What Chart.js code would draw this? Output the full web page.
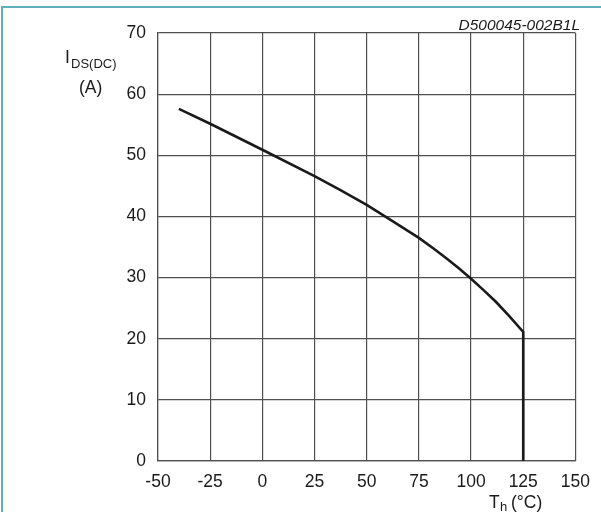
<!DOCTYPE html>
<html>
<head>
<meta charset="utf-8">
<script src="https://cdn.jsdelivr.net/npm/chart.js@4"></script>
<style>
  html, body { margin: 0; padding: 0; background: #fff; }
  #wrap { width: 601px; height: 512px; position: relative; }
</style>
</head>
<body>
<div id="wrap"><canvas id="c" width="601" height="512"></canvas></div>
<script>
// Derating curve: drain current vs. heatsink temperature
const heatsinkTemp = [-40, -25, 0, 25, 37, 50, 62, 75, 82, 88, 94, 100, 106, 112, 118, 125, 125];
const drainCurrent = [57.6, 55.15, 50.9, 46.6, 44.4, 41.9, 39.3, 36.5, 34.75, 33.2, 31.55, 29.8, 27.95, 26.0, 23.8, 21.1, 0];
const xTicks = [-50, -25, 0, 25, 50, 75, 100, 125, 150];
const yTicks = [0, 10, 20, 30, 40, 50, 60, 70];
const docCode = 'D500045-002B1L';

const FONT = 'Liberation Sans, Arial, sans-serif';

const points = heatsinkTemp.map((t, i) => ({ x: t, y: drainCurrent[i] }));

// Frame lines, document code and axis titles with subscripts
const decorations = {
  id: 'decorations',
  beforeDraw(chart) {
    const ctx = chart.ctx;
    ctx.save();
    ctx.fillStyle = '#fff';
    ctx.fillRect(0, 0, chart.width, chart.height);
    ctx.strokeStyle = '#62aebd';
    ctx.lineWidth = 2;
    ctx.beginPath();
    ctx.moveTo(2, chart.height);
    ctx.lineTo(2, 7);
    ctx.lineTo(chart.width, 7);
    ctx.stroke();
    ctx.restore();
  },
  afterDraw(chart) {
    const ctx = chart.ctx;
    ctx.save();
    ctx.fillStyle = '#1a1a1a';
    ctx.textBaseline = 'alphabetic';

    // document code, top right
    ctx.font = 'italic 15.5px ' + FONT;
    ctx.textAlign = 'right';
    ctx.fillText(docCode, 580, 30);

    // y-axis title: I_DS(DC) (A)
    ctx.textAlign = 'left';
    ctx.font = '17.5px ' + FONT;
    ctx.fillText('I', 65, 63);
    ctx.font = '13px ' + FONT;
    ctx.fillText('DS(DC)', 71, 68);
    ctx.font = '17.5px ' + FONT;
    ctx.fillText('(A)', 79, 93);

    // x-axis title: T_h (°C)
    ctx.font = '17.5px ' + FONT;
    ctx.fillText('T', 489, 508);
    ctx.font = '13px ' + FONT;
    ctx.fillText('h', 500, 511);
    ctx.font = '17.5px ' + FONT;
    ctx.fillText('(°C)', 511, 508);
    ctx.restore();
  }
};

new Chart(document.getElementById('c'), {
  type: 'scatter',
  data: {
    datasets: [{
      data: points,
      showLine: true,
      borderColor: '#1a1a1a',
      borderWidth: 2.6,
      pointRadius: 0,
      tension: 0,
      fill: false
    }]
  },
  options: {
    responsive: false,
    animation: false,
    events: [],
    layout: { padding: { top: 33, right: 20, left: 0, bottom: 0 } },
    plugins: { legend: { display: false }, tooltip: { enabled: false } },
    scales: {
      x: {
        type: 'linear',
        min: -50, max: 150,
        afterBuildTicks(scale) { scale.ticks = xTicks.map(v => ({ value: v })); },
        afterFit(scale) { scale.height = 51; },
        grid: { color: '#505050', lineWidth: 1.2, drawTicks: false },
        border: { color: '#505050', width: 1.2 },
        ticks: {
          color: '#1a1a1a',
          font: { family: FONT, size: 17.5 },
          padding: 11,
          maxRotation: 0,
          autoSkip: false
        }
      },
      y: {
        type: 'linear',
        min: 0, max: 70,
        afterBuildTicks(scale) { scale.ticks = yTicks.map(v => ({ value: v })); },
        afterFit(scale) { scale.width = 158; },
        grid: { color: '#505050', lineWidth: 1.2, drawTicks: false },
        border: { color: '#505050', width: 1.2 },
        ticks: {
          color: '#1a1a1a',
          font: { family: FONT, size: 17.5 },
          padding: 12,
          autoSkip: false
        }
      }
    }
  },
  plugins: [decorations]
});
</script>
</body>
</html>
